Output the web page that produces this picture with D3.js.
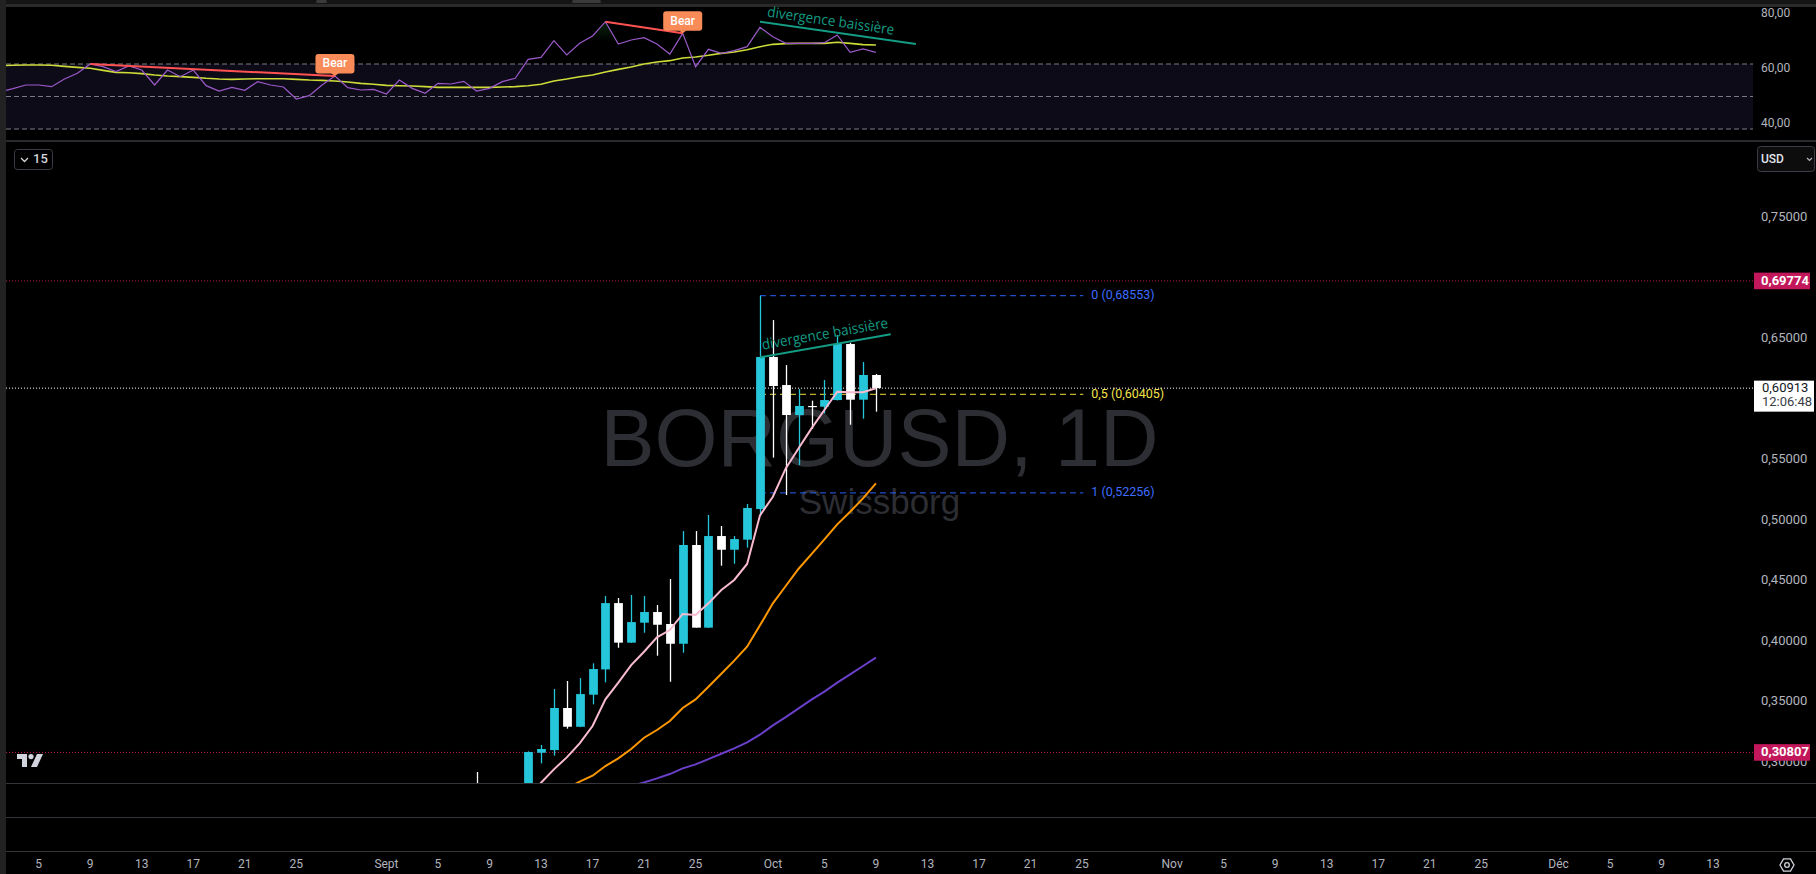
<!DOCTYPE html>
<html><head><meta charset="utf-8">
<script src="https://cdn.jsdelivr.net/npm/d3@7"></script>
<style>
html,body{margin:0;padding:0;background:#000;overflow:hidden}
svg{display:block;font-family:Roboto,"Liberation Sans",sans-serif}
</style></head><body>
<svg id="c" width="1816" height="874"></svg>
<script>
// ---------------- DATA ----------------
const candleDates = ["2025-09-08","2025-09-12","2025-09-13","2025-09-14","2025-09-15","2025-09-16","2025-09-17","2025-09-18","2025-09-19","2025-09-20","2025-09-21","2025-09-22","2025-09-23","2025-09-24","2025-09-25","2025-09-26","2025-09-27","2025-09-28","2025-09-29","2025-09-30","2025-10-01","2025-10-02","2025-10-03","2025-10-04","2025-10-05","2025-10-06","2025-10-07","2025-10-08","2025-10-09"];
const opens  = [0.2750,0.2720,0.3078,0.3100,0.3448,0.3293,0.3558,0.3767,0.4315,0.3988,0.4153,0.4241,0.4142,0.3979,0.4795,0.4112,0.4869,0.4756,0.4839,0.5092,0.6349,0.6117,0.5869,0.5944,0.5938,0.5993,0.6456,0.5996,0.6200];
const highs  = [0.2919,0.3090,0.3142,0.3605,0.3671,0.3695,0.3817,0.4373,0.4357,0.4382,0.4373,0.4299,0.4514,0.4910,0.4910,0.5043,0.4952,0.4869,0.5134,0.6855,0.6654,0.6282,0.6084,0.5988,0.6158,0.6530,0.6467,0.6307,0.6208];
const lows   = [0.2620,0.2680,0.2990,0.3054,0.3277,0.3290,0.3478,0.3660,0.3946,0.3985,0.4070,0.3880,0.3665,0.3905,0.4112,0.4110,0.4624,0.4640,0.4773,0.5034,0.5517,0.5208,0.5456,0.5754,0.5883,0.5990,0.5789,0.5839,0.5897];
const closes = [0.2680,0.3084,0.3109,0.3448,0.3293,0.3563,0.3770,0.4315,0.3988,0.4158,0.4241,0.4136,0.3979,0.4795,0.4112,0.4869,0.4756,0.4844,0.5101,0.6349,0.6109,0.5869,0.5944,0.5938,0.5993,0.6456,0.5996,0.6200,0.60913];
// moving averages aligned with candleDates
const maPink   = [null,0.2701,0.2830,0.2941,0.3040,0.3156,0.3299,0.3519,0.3657,0.3803,0.3913,0.4032,0.4092,0.4225,0.4216,0.4313,0.4423,0.4506,0.4638,0.5040,0.5194,0.5428,0.5594,0.5759,0.5911,0.6062,0.6057,0.6057,0.6090];
const maOrange = [null,null,null,0.2729,0.2784,0.2839,0.2888,0.2968,0.3032,0.3109,0.3202,0.3266,0.3340,0.3448,0.3519,0.3624,0.3731,0.3839,0.3955,0.4131,0.4313,0.4456,0.4599,0.4720,0.4842,0.4966,0.5070,0.5180,0.5304];
const maPurple = [null,null,null,null,null,null,null,null,0.2775,0.2803,0.2833,0.2866,0.2902,0.2949,0.2982,0.3026,0.3070,0.3114,0.3164,0.3227,0.3304,0.3373,0.3445,0.3517,0.3583,0.3657,0.3726,0.3795,0.3864];

// RSI pane (daily, from rsiStart)
const rsiStart = "2025-08-02";
const rsiValues = [51.75,52.84,54.17,54.17,53.57,56.35,58.41,61.80,60.83,59.02,
  61.07,59.62,54.17,59.62,57.20,59.62,53.93,52.00,53.33,52.24,
  55.38,54.17,53.45,49.09,50.30,54.17,57.44,53.21,52.36,52.60,
  50.91,55.99,52.96,51.15,54.78,54.54,55.51,52.00,52.96,55.38,
  56.60,63.49,64.22,70.27,65.07,69.30,71.97,77.17,69.06,70.51,
  71.36,69.06,65.43,72.94,60.83,67.13,65.67,66.64,68.09,75.11,
  71.72,69.30,69.30,69.30,69.55,72.33,66.04,67.25,66.04];
const rsiMA = [61.20,61.32,61.44,61.44,61.32,60.95,60.59,60.23,59.50,58.77,
  58.65,58.29,57.81,57.44,57.20,56.96,56.60,56.35,56.23,56.35,
  56.47,56.47,56.47,56.23,55.99,55.87,55.63,55.26,54.78,54.42,
  54.05,53.93,53.81,53.57,53.33,53.33,53.33,53.33,53.33,53.45,
  53.57,53.93,54.42,55.63,56.35,57.20,57.81,58.90,59.86,60.71,
  61.80,62.53,63.01,63.98,64.34,64.95,65.67,66.16,67.00,68.09,
  68.94,69.18,69.30,69.30,69.30,69.67,69.30,68.82,68.70];
const rsiBands = [61.8, 50, 38.2];
const rsiTicks = [80, 60, 40];
const bearLines = [
  {from:["2025-08-09",61.80], to:["2025-08-28",57.44]},
  {from:["2025-09-18",77.17], to:["2025-09-24",72.94]}
];
const rsiDivLine = {from:["2025-09-30T00:00",77.16], to:["2025-10-12T02:30",69.06]};
const priceDivLine = {from:["2025-09-30T00:00",0.6346], to:["2025-10-10T03:40",0.6536]};
const divLabel = "divergence baissière";

// price axis (0,60000 and 0,70000 are hidden behind the price labels in the reference)
const priceTicks = [0.30,0.35,0.40,0.45,0.50,0.55,0.65,0.75];
const alertLevels = [0.69774, 0.30807];
const lastPrice = 0.60913, countdown = "12:06:48";
const fibLevels = [{lvl:"0", v:0.68553, c:"#2962ff"},{lvl:"0,5", v:0.60405, c:"#f2de3a"},{lvl:"1", v:0.52256, c:"#2962ff"}];
const fibFrom = "2025-09-30T00:00", fibTo = "2025-10-25T02:30";

// time axis
const timeTicks = [["2025-08-05","5"],["2025-08-09","9"],["2025-08-13","13"],["2025-08-17","17"],["2025-08-21","21"],["2025-08-25","25"],["2025-09-01","Sept"],["2025-09-05","5"],["2025-09-09","9"],["2025-09-13","13"],["2025-09-17","17"],["2025-09-21","21"],["2025-09-25","25"],["2025-10-01","Oct"],["2025-10-05","5"],["2025-10-09","9"],["2025-10-13","13"],["2025-10-17","17"],["2025-10-21","21"],["2025-10-25","25"],["2025-11-01","Nov"],["2025-11-05","5"],["2025-11-09","9"],["2025-11-13","13"],["2025-11-17","17"],["2025-11-21","21"],["2025-11-25","25"],["2025-12-01","Déc"],["2025-12-05","5"],["2025-12-09","9"],["2025-12-13","13"]];

// ---------------- LAYOUT ----------------
const W=1816,H=874, plotL=6, plotR=1753, rsiTop=7, rsiBot=140, mainTop=142, mainBot=783;
const svg = d3.select("#c");
const pDay = d3.utcParse("%Y-%m-%d"), pTime = d3.utcParse("%Y-%m-%dT%H:%M");
const pd = s => s.length>10 ? pTime(s) : pDay(s);
const DAY = 864e5, anchor = pDay("2025-08-05"), anchorX = 38.7, pxDay = 12.88;
const x = d3.scaleUtc()
  .domain([new Date(+anchor - (anchorX-plotL)/pxDay*DAY), new Date(+anchor + (plotR-anchorX)/pxDay*DAY)])
  .range([plotL, plotR]);
const y = d3.scaleLinear().domain([0.30,0.75]).range([762.2,217.7]);
const yR = d3.scaleLinear().domain([38.2,61.8]).range([129,64]);
const loc = d3.formatLocale({decimal:",", thousands:" ", grouping:[3], currency:["","$"]});
const f5 = loc.format(".5f"), f2 = loc.format(".2f");

const defs = svg.append("defs");
defs.append("clipPath").attr("id","clipMain").append("rect")
  .attr("x",plotL).attr("y",mainTop).attr("width",plotR-plotL).attr("height",mainBot-mainTop);
defs.append("clipPath").attr("id","clipRsi").append("rect")
  .attr("x",plotL).attr("y",rsiTop).attr("width",plotR-plotL).attr("height",rsiBot-rsiTop);
const grad = defs.append("linearGradient").attr("id","obGrad").attr("x1",0).attr("x2",0)
  .attr("gradientUnits","userSpaceOnUse").attr("y1",yR(80)).attr("y2",yR(70));
grad.append("stop").attr("offset","0%").attr("stop-color","#1b5e20").attr("stop-opacity",0.55);
grad.append("stop").attr("offset","100%").attr("stop-color","#1b5e20").attr("stop-opacity",0);

// backgrounds
svg.append("rect").attr("width",W).attr("height",H).attr("fill","#000");
svg.append("rect").attr("x",0).attr("y",0).attr("width",W).attr("height",4).attr("fill","#141414");
svg.append("rect").attr("x",0).attr("y",4).attr("width",W).attr("height",3).attr("fill","#2a2a2a");
svg.append("rect").attr("x",316).attr("y",0).attr("width",11).attr("height",3).attr("rx",1.5).attr("fill","#3a3a3a");
svg.append("rect").attr("x",572).attr("y",0).attr("width",29).attr("height",3).attr("rx",1.5).attr("fill","#3a3a3a");
svg.append("rect").attr("x",0).attr("y",0).attr("width",plotL).attr("height",H).attr("fill","#222");
svg.append("rect").attr("x",plotL).attr("y",140).attr("width",W-plotL).attr("height",2).attr("fill","#2a2a2e");
[783.5, 817.5, 851.5].forEach(v=>{
  svg.append("line").attr("x1",plotL).attr("x2",W).attr("y1",v).attr("y2",v).attr("stroke","#34343a").attr("stroke-width",1.2);
});

// ---------------- RSI PANE ----------------
const rsiDates = rsiValues.map((_,i)=> d3.utcDay.offset(pDay(rsiStart), i));
const rsiG = svg.append("g").attr("clip-path","url(#clipRsi)");
rsiG.append("rect").attr("x",plotL).attr("width",plotR-plotL)
  .attr("y",yR(rsiBands[0])).attr("height",yR(rsiBands[2])-yR(rsiBands[0])).attr("fill","#0e0b18");
rsiBands.forEach(b=>{
  rsiG.append("line").attr("x1",plotL).attr("x2",plotR).attr("y1",yR(b)).attr("y2",yR(b))
    .attr("stroke","#787b86").attr("stroke-dasharray","5,3").attr("stroke-width",1);
});
rsiG.append("path").datum(rsiValues.map((v,i)=>({d:rsiDates[i],v})))
  .attr("fill","url(#obGrad)")
  .attr("d", d3.area().x(d=>x(d.d)).y0(yR(70)).y1(d=>yR(Math.max(70,d.v))));
rsiG.append("path").datum(rsiMA.map((v,i)=>({d:rsiDates[i],v})))
  .attr("fill","none").attr("stroke","#cddc39").attr("stroke-width",1.6)
  .attr("d", d3.line().x(d=>x(d.d)).y(d=>yR(d.v)));
rsiG.append("path").datum(rsiValues.map((v,i)=>({d:rsiDates[i],v})))
  .attr("fill","none").attr("stroke","#9b59c9").attr("stroke-width",1.2)
  .attr("d", d3.line().x(d=>x(d.d)).y(d=>yR(d.v)));
bearLines.forEach(b=>{
  rsiG.append("line").attr("x1",x(pd(b.from[0]))).attr("y1",yR(b.from[1]))
    .attr("x2",x(pd(b.to[0]))).attr("y2",yR(b.to[1])).attr("stroke","#ff5252").attr("stroke-width",2);
});
bearLines.forEach(b=>{
  const cx = x(pd(b.to[0])), py = yR(b.to[1]);
  const bw=39, bh=19.5, by = py-2.5-bh;
  svg.append("path").attr("d",`M${cx-4},${by+bh-0.5} L${cx},${py} L${cx+4},${by+bh-0.5} Z`).attr("fill","#f88b58");
  svg.append("rect").attr("x",cx-bw/2).attr("y",by).attr("width",bw).attr("height",bh).attr("rx",3).attr("fill","#f88b58");
  svg.append("text").attr("x",cx).attr("y",by+bh/2+0.5).attr("text-anchor","middle").attr("dominant-baseline","middle")
    .attr("fill","#fff").attr("font-size",12).attr("font-weight",500).text("Bear");
});
function divAnnot(g, line, yScale, off){
  const x1=x(pd(line.from[0])), y1=yScale(line.from[1]), x2=x(pd(line.to[0])), y2=yScale(line.to[1]);
  g.append("line").attr("x1",x1).attr("y1",y1).attr("x2",x2).attr("y2",y2).attr("stroke","#149c84").attr("stroke-width",2);
  const ang = Math.atan2(y2-y1, x2-x1)*180/Math.PI;
  g.append("text").attr("transform",`translate(${x1},${y1}) rotate(${ang})`)
    .attr("x",off[0]).attr("y",off[1]).attr("fill","#149c84").attr("font-size",14.5)
    .style("font-family","'Open Sans',sans-serif")
    .attr("textLength",off[2]).attr("lengthAdjust","spacingAndGlyphs").text(divLabel);
}
divAnnot(svg, rsiDivLine, yR, [6,-6,128]);
rsiTicks.forEach(t=>{
  svg.append("text").attr("x",1761).attr("y",yR(t)).attr("dominant-baseline","middle")
    .attr("fill","#b2b5be").attr("font-size",12).text(f2(t));
});

// ---------------- MAIN PANE ----------------
const mainG = svg.append("g").attr("clip-path","url(#clipMain)");
const cx0 = (plotL+plotR)/2;
mainG.append("text").attr("x",cx0).attr("y",466).attr("text-anchor","middle")
  .style("font-family","'Liberation Sans',Arial,sans-serif").attr("font-size",81).attr("fill","#2d2e33").text("BORGUSD, 1D");
mainG.append("text").attr("x",cx0).attr("y",514).attr("text-anchor","middle")
  .style("font-family","'Liberation Sans',Arial,sans-serif").attr("font-size",35).attr("fill","#2d2e33").text("Swissborg");

alertLevels.forEach(v=>{
  mainG.append("line").attr("x1",plotL).attr("x2",plotR).attr("y1",y(v)).attr("y2",y(v))
    .attr("stroke","#c2185b").attr("stroke-width",1).attr("stroke-dasharray","1,2");
});
fibLevels.forEach(f=>{
  mainG.append("line").attr("x1",x(pd(fibFrom))).attr("x2",x(pd(fibTo))).attr("y1",y(f.v)).attr("y2",y(f.v))
    .attr("stroke",f.c).attr("stroke-width",1).attr("stroke-dasharray","6,4");
  mainG.append("text").attr("x",x(pd(fibTo))+8).attr("y",y(f.v)).attr("dominant-baseline","middle")
    .attr("fill",f.c==="#2962ff"?"#3d6cff":"#f5e24a").attr("font-size",12.5).text(`${f.lvl} (${f5(f.v)})`);
});
mainG.append("line").attr("x1",plotL).attr("x2",plotR).attr("y1",y(lastPrice)).attr("y2",y(lastPrice))
  .attr("stroke","#ffffff").attr("stroke-width",1).attr("stroke-dasharray","1,2");

const cdata = candleDates.map((d,i)=>({d:pDay(d),o:opens[i],h:highs[i],l:lows[i],c:closes[i],
  p:maPink[i], or:maOrange[i], pu:maPurple[i]}));
const maLine = key => d3.line().defined(d=>d[key]!=null).x(d=>x(d.d)).y(d=>y(d[key]));
mainG.append("path").datum(cdata).attr("fill","none").attr("stroke","#6a3fc9").attr("stroke-width",2).attr("d",maLine("pu"));
mainG.append("path").datum(cdata).attr("fill","none").attr("stroke","#ff9800").attr("stroke-width",2).attr("d",maLine("or"));

const dayW = x(pDay("2025-09-02"))-x(pDay("2025-09-01"));
const bw = dayW*0.68;
const col = d => d.c>=d.o ? "#26c6da" : "#ffffff";
mainG.selectAll("line.wick").data(cdata).join("line").attr("class","wick")
  .attr("x1",d=>Math.round(x(d.d))+0.5).attr("x2",d=>Math.round(x(d.d))+0.5)
  .attr("y1",d=>y(d.h)).attr("y2",d=>y(d.l)).attr("stroke",col).attr("stroke-width",1.3);
mainG.selectAll("rect.body").data(cdata).join("rect").attr("class","body")
  .attr("x",d=>Math.round(x(d.d))+0.5-bw/2).attr("width",bw)
  .attr("y",d=>y(Math.max(d.o,d.c))).attr("height",d=>Math.max(1.2, Math.abs(y(d.o)-y(d.c))))
  .attr("fill",col);
mainG.append("path").datum(cdata).attr("fill","none").attr("stroke","#f8bbd0").attr("stroke-width",2).attr("d",maLine("p"));

divAnnot(mainG, priceDivLine, y, [4,-7,128]);

// TV logo
const logo = svg.append("g").attr("transform","translate(17,754)").attr("fill","#d1d4dc");
logo.append("path").attr("d","M0,0 H10 V13 H5 V5 H0 Z");
logo.append("circle").attr("cx",14).attr("cy",2.6).attr("r",2.6);
logo.append("path").attr("d","M20,0 H26 L20,13 H14 Z");

// price axis
svg.selectAll("text.pt").data(priceTicks).join("text").attr("class","pt")
  .attr("x",1761).attr("y",d=>y(d)).attr("dominant-baseline","middle")
  .attr("fill","#b2b5be").attr("font-size",13).text(d=>f5(d));
alertLevels.forEach(v=>{
  svg.append("rect").attr("x",1754).attr("y",y(v)-8.3).attr("width",56).attr("height",16.6).attr("fill","#c2185b");
  svg.append("text").attr("x",1761).attr("y",y(v)+0.5).attr("dominant-baseline","middle")
    .attr("fill","#fff").attr("font-size",13).attr("font-weight",700).text(f5(v));
});
svg.append("rect").attr("x",1754).attr("y",y(lastPrice)-7.5).attr("width",60).attr("height",31).attr("fill","#fff");
svg.append("text").attr("x",1762).attr("y",y(lastPrice)+0.3).attr("dominant-baseline","middle")
  .attr("fill","#131722").attr("font-size",13).text(f5(lastPrice));
svg.append("text").attr("x",1762).attr("y",y(lastPrice)+14.3).attr("dominant-baseline","middle")
  .attr("fill","#3a3d45").attr("font-size",13).text(countdown);

// USD box
svg.append("rect").attr("x",1757.5).attr("y",146.5).attr("width",57).attr("height",25).attr("rx",3)
  .attr("fill","#0d0d0d").attr("stroke","#3a3d45");
svg.append("text").attr("x",1761).attr("y",159.5).attr("dominant-baseline","middle")
  .attr("fill","#e0e3eb").attr("font-size",12).attr("font-weight",500).text("USD");
svg.append("path").attr("d","M1807,158 l2.5,2.5 l2.5,-2.5").attr("fill","none").attr("stroke","#b2b5be").attr("stroke-width",1.2);

// "15" box
svg.append("rect").attr("x",14.5).attr("y",149.5).attr("width",38).attr("height",20).attr("rx",3)
  .attr("fill","none").attr("stroke","#3a3d45");
svg.append("path").attr("d","M21,158 l3.5,3.5 l3.5,-3.5").attr("fill","none").attr("stroke","#d1d4dc").attr("stroke-width",1.3);
svg.append("text").attr("x",33).attr("y",160).attr("dominant-baseline","middle")
  .attr("fill","#d1d4dc").attr("font-size",13).attr("font-weight",500).text("15");

// time axis
svg.selectAll("text.tt").data(timeTicks).join("text").attr("class","tt")
  .attr("x",d=>x(pDay(d[0]))).attr("y",865).attr("text-anchor","middle").attr("dominant-baseline","middle")
  .attr("fill","#b2b5be").attr("font-size",12).text(d=>d[1]);
const hx=1787, hy=865, hr=7;
svg.append("path").attr("d", d3.range(6).map((i)=>{const a=Math.PI/3*i; return (i?"L":"M")+(hx+hr*Math.cos(a))+","+(hy+hr*Math.sin(a));}).join("")+"Z")
  .attr("fill","none").attr("stroke","#d1d4dc").attr("stroke-width",1.3);
svg.append("circle").attr("cx",hx).attr("cy",hy).attr("r",2.3).attr("fill","none").attr("stroke","#d1d4dc").attr("stroke-width",1.3);
</script></body></html>
